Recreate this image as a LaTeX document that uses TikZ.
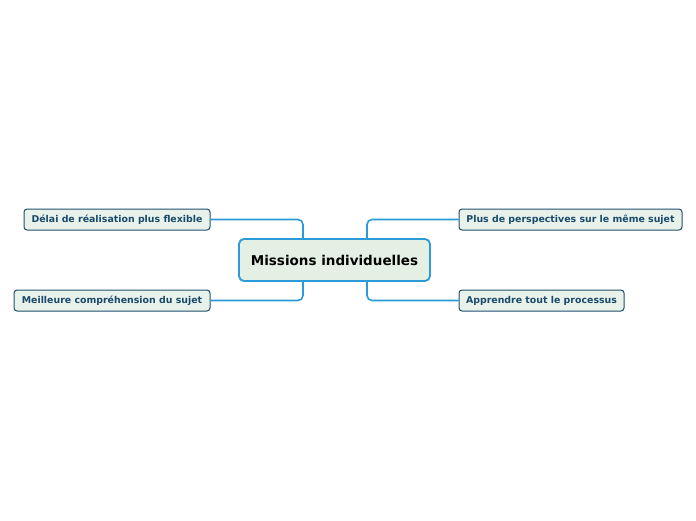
\documentclass[tikz,border=0pt]{standalone}
\usepackage{fontspec}
\setmainfont{DejaVu Sans}
\begin{document}
\begin{tikzpicture}[x=1pt,y=-1pt,
  central/.style={draw=cblue, line width=1.8pt, fill=cfill, rounded corners=5pt,
    minimum width=191pt, minimum height=42pt, inner sep=0pt,
    font=\bfseries\fontsize{13.5}{16}\selectfont, text=black},
  sub/.style={draw=sborder, line width=1pt, fill=sfill, rounded corners=3pt,
    minimum height=21pt, inner sep=0pt, text=stext,
    font=\bfseries\fontsize{9.4}{11}\selectfont},
  conn/.style={draw=cblue, line width=1.6pt, rounded corners=5pt}]
\definecolor{cblue}{HTML}{2A9AD9}
\definecolor{cfill}{HTML}{E5F0E5}
\definecolor{sfill}{HTML}{E8F2EA}
\definecolor{sborder}{HTML}{1F4E6A}
\definecolor{stext}{HTML}{1A4A6B}
\useasboundingbox (0,0) rectangle (696,520);
\node[central] (c) at (334.5,260) {Missions individuelles};
\node[sub, minimum width=186pt] (a) at (117,219.5) {Délai de réalisation plus flexible};
\node[sub, minimum width=196pt] (b) at (112,300.5) {Meilleure compréhension du sujet};
\node[sub, minimum width=223pt] (d) at (570.5,219.5) {Plus de perspectives sur le même sujet};
\node[sub, minimum width=165pt] (e) at (541.5,300.5) {Apprendre tout le processus};
\coordinate (tl) at ([xshift=-31.5pt]c.north);
\coordinate (tr) at ([xshift=32.5pt]c.north);
\coordinate (bl) at ([xshift=-31.5pt]c.south);
\coordinate (br) at ([xshift=32.5pt]c.south);
\draw[conn] (tl) |- (a.east);
\draw[conn] (bl) |- (b.east);
\draw[conn] (tr) |- (d.west);
\draw[conn] (br) |- (e.west);
\end{tikzpicture}
\end{document}
